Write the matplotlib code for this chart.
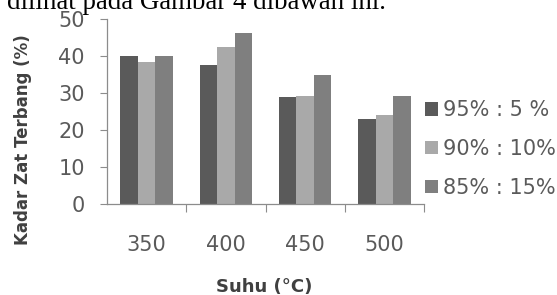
"""Bar chart: Kadar Zat Terbang vs Suhu for three blend ratios."""

import matplotlib
matplotlib.use("Agg")
import matplotlib.pyplot as plt
import numpy as np
from matplotlib.patches import Patch

# Data
SUHU = ["350", "400", "450", "500"]
SERIES = ["95% : 5 %", "90% : 10%", "85% : 15%"]
VAL_95_5 = [39.9, 37.7, 28.8, 23.0]
VAL_90_10 = [38.3, 42.5, 29.2, 24.1]
VAL_85_15 = [40.1, 46.3, 34.8, 29.3]
COLORS = ["#5a5a5a", "#a9a9a9", "#7f7f7f"]

W, H = 557, 295
fig = plt.figure(figsize=(W / 100, H / 100), dpi=100)
fig.patch.set_facecolor("white")

# cropped sentence from the page above the chart
fig.text(7 / W, 1 - 9 / H, "dilihat pada Gambar 4 dibawah ini.",
         family="Liberation Serif", fontsize=19.4, color="black",
         ha="left", va="baseline")

ax = fig.add_axes([107 / W, 1 - 204 / H, 317 / W, 185 / H])
x = np.arange(len(SUHU))
bw = 0.22
for i, vals in enumerate([VAL_95_5, VAL_90_10, VAL_85_15]):
    ax.bar(x + (i - 1) * bw, vals, width=bw, color=COLORS[i], zorder=2)

ax.set_xlim(-0.5, len(SUHU) - 0.5)
ax.set_ylim(0, 50)
ax.set_yticks(range(0, 51, 10))
ax.set_xticks(x)
ax.set_xticklabels(SUHU)
ax.set_xticks(np.arange(len(SUHU)) + 0.5, minor=True)

for side in ("top", "right"):
    ax.spines[side].set_visible(False)
for side in ("left", "bottom"):
    ax.spines[side].set_color("#8c8c8c")
    ax.spines[side].set_linewidth(0.9)

ax.tick_params(axis="y", length=5, width=0.8, color="#8c8c8c", pad=11,
               labelsize=15, labelcolor="#5a5a5a")
ax.tick_params(axis="x", which="major", length=0, pad=22,
               labelsize=15, labelcolor="#5a5a5a")
ax.tick_params(axis="x", which="minor", length=6, width=0.8, color="#8c8c8c")

fig.text(23 / W, 1 - 140 / H, "Kadar Zat Terbang (%)", rotation=90,
         fontsize=12, fontweight="bold", color="#404040",
         ha="center", va="center")
fig.text(264 / W, 1 - 287 / H, "Suhu (\u00b0C)", fontsize=13,
         fontweight="bold", color="#404040", ha="center", va="center")

handles = [Patch(facecolor=c, edgecolor="none") for c in COLORS]
leg = fig.legend(handles, SERIES, loc="center left",
                 bbox_to_anchor=(425 / W, 1 - 149 / H),
                 frameon=False, fontsize=15, handlelength=0.6,
                 handleheight=0.6, handletextpad=0.25, labelspacing=0.9,
                 borderpad=0, borderaxespad=0)
for t in leg.get_texts():
    t.set_color("#5a5a5a")

fig.savefig("out.png", dpi=100, facecolor="white")
